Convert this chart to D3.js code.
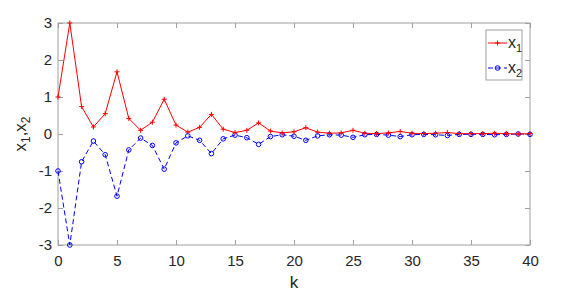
<!DOCTYPE html>
<html>
<head>
<meta charset="utf-8">
<script src="https://cdn.jsdelivr.net/npm/d3@7"></script>
<style>
  body { margin: 0; background: #fff; }
  text { font-family: "Liberation Sans", Arial, sans-serif; fill: #262626; }
</style>
</head>
<body>
<script>
  // k = 0..40
  let kValues = d3.range(0, 41);

  // x1 (red, solid, '+')
  let x1Values = [1, 3, 0.74, 0.19, 0.55, 1.68, 0.42, 0.10, 0.32, 0.94,
    0.24, 0.05, 0.18, 0.53, 0.13, 0.04, 0.10, 0.30, 0.08, 0.03,
    0.06, 0.17, 0.05, 0.02, 0.03, 0.10, 0.02, 0.01, 0.03, 0.07,
    0.02, 0.01, 0.02, 0.04, 0.01, 0.01, 0.01, 0.02, 0.01, 0.0, 0.01];

  // x2 (blue, dashed, 'o')
  let x2Values = [-1, -3, -0.75, -0.19, -0.56, -1.68, -0.43, -0.11, -0.31, -0.95,
    -0.24, -0.05, -0.17, -0.53, -0.13, -0.03, -0.10, -0.28, -0.07, -0.02,
    -0.06, -0.17, -0.05, -0.02, -0.03, -0.09, -0.02, -0.01, -0.03, -0.07,
    -0.02, -0.01, -0.02, -0.04, -0.01, -0.01, -0.01, -0.02, -0.01, 0.0, -0.01];

  let xTicks = [0, 5, 10, 15, 20, 25, 30, 35, 40];
  let yTicks = [-3, -2, -1, 0, 1, 2, 3];

  let width = 574, height = 292;
  let margin = { left: 58, right: 44, top: 23, bottom: 47 };

  let svg = d3.select('body').append('svg')
    .attr('width', width)
    .attr('height', height);

  let xScale = d3.scaleLinear()
    .domain([0, 40])
    .range([margin.left, width - margin.right]);

  let yScale = d3.scaleLinear()
    .domain([-3, 3])
    .range([height - margin.bottom, margin.top]);

  let axisColor = '#a0a0a0';
  let tickLen = 5;
  // plain hyphen minus like the original
  let fmt = (d) => String(d);

  // box
  svg.append('rect')
    .attr('x', margin.left)
    .attr('y', margin.top)
    .attr('width', width - margin.left - margin.right)
    .attr('height', height - margin.top - margin.bottom)
    .attr('fill', 'none')
    .attr('stroke', axisColor)
    .attr('stroke-width', 1);

  // axes with inward ticks
  let xAxis = d3.axisBottom(xScale).tickValues(xTicks).tickSizeInner(-tickLen).tickSizeOuter(0).tickPadding(10).tickFormat(fmt);
  let gx = svg.append('g')
    .attr('transform', `translate(0, ${height - margin.bottom})`)
    .call(xAxis);
  let xTop = d3.axisTop(xScale).tickValues(xTicks).tickSizeInner(-tickLen).tickSizeOuter(0).tickFormat('');
  let gxt = svg.append('g')
    .attr('transform', `translate(0, ${margin.top})`)
    .call(xTop);

  let yAxis = d3.axisLeft(yScale).tickValues(yTicks).tickSizeInner(-tickLen).tickSizeOuter(0).tickPadding(6).tickFormat(fmt);
  let gy = svg.append('g')
    .attr('transform', `translate(${margin.left}, 0)`)
    .call(yAxis);
  let yRight = d3.axisRight(yScale).tickValues(yTicks).tickSizeInner(-tickLen).tickSizeOuter(0).tickFormat('');
  let gyr = svg.append('g')
    .attr('transform', `translate(${width - margin.right}, 0)`)
    .call(yRight);

  [gx, gxt, gy, gyr].forEach((g) => {
    g.select('.domain').remove();
    g.selectAll('line').attr('stroke', axisColor);
    g.selectAll('text')
      .style('font-family', '"Liberation Sans", Arial, sans-serif')
      .style('font-size', '15px')
      .attr('fill', '#262626');
  });

  // axis labels
  svg.append('text')
    .attr('x', (margin.left + width - margin.right) / 2)
    .attr('y', 288)
    .attr('text-anchor', 'middle')
    .style('font-size', '17px')
    .text('k');

  let yl = svg.append('text')
    .attr('transform', `translate(26, ${(margin.top + height - margin.bottom) / 2}) rotate(-90)`)
    .attr('text-anchor', 'middle')
    .style('font-size', '17px');
  yl.append('tspan').text('x');
  yl.append('tspan').attr('dy', 4).style('font-size', '12px').text('1');
  yl.append('tspan').attr('dy', -4).text(',x');
  yl.append('tspan').attr('dy', 4).style('font-size', '12px').text('2');

  let red = '#ff0000', blue = '#0000ff';

  let line1 = d3.line().x((d, i) => xScale(kValues[i])).y((d) => yScale(d));

  // x2 series
  svg.append('path')
    .datum(x2Values)
    .attr('d', line1)
    .attr('fill', 'none')
    .attr('stroke', blue)
    .attr('stroke-width', 1)
    .attr('stroke-dasharray', '5,3');
  svg.selectAll('.dot2')
    .data(x2Values)
    .enter()
    .append('circle')
      .attr('cx', (d, i) => xScale(kValues[i]))
      .attr('cy', (d) => yScale(d))
      .attr('r', 2.3)
      .attr('fill', 'none')
      .attr('stroke', blue)
      .attr('stroke-width', 1);

  // x1 series
  svg.append('path')
    .datum(x1Values)
    .attr('d', line1)
    .attr('fill', 'none')
    .attr('stroke', red)
    .attr('stroke-width', 1);
  svg.selectAll('.dot1')
    .data(x1Values)
    .enter()
    .append('path')
      .attr('transform', (d, i) => `translate(${xScale(kValues[i])}, ${yScale(d)})`)
      .attr('d', 'M-2.5,0H2.5M0,-2.5V2.5')
      .attr('stroke', red)
      .attr('stroke-width', 1);

  // legend
  let lg = svg.append('g');
  lg.append('rect')
    .attr('x', 486).attr('y', 30)
    .attr('width', 36).attr('height', 50)
    .attr('fill', '#fff')
    .attr('stroke', axisColor);
  lg.append('line')
    .attr('x1', 488).attr('x2', 507).attr('y1', 43).attr('y2', 43)
    .attr('stroke', red);
  lg.append('path')
    .attr('transform', 'translate(497.5, 43)')
    .attr('d', 'M-2.5,0H2.5M0,-2.5V2.5')
    .attr('stroke', red);
  lg.append('line')
    .attr('x1', 488).attr('x2', 507).attr('y1', 68).attr('y2', 68)
    .attr('stroke', blue)
    .attr('stroke-dasharray', '5,3');
  lg.append('circle')
    .attr('cx', 497.5).attr('cy', 68).attr('r', 2.3)
    .attr('fill', 'none').attr('stroke', blue);

  let lt1 = lg.append('text').attr('x', 508).attr('y', 48).style('font-size', '16px');
  lt1.append('tspan').text('x');
  lt1.append('tspan').attr('dy', 4).style('font-size', '11px').text('1');
  let lt2 = lg.append('text').attr('x', 508).attr('y', 73).style('font-size', '16px');
  lt2.append('tspan').text('x');
  lt2.append('tspan').attr('dy', 4).style('font-size', '11px').text('2');
</script>
</body>
</html>
